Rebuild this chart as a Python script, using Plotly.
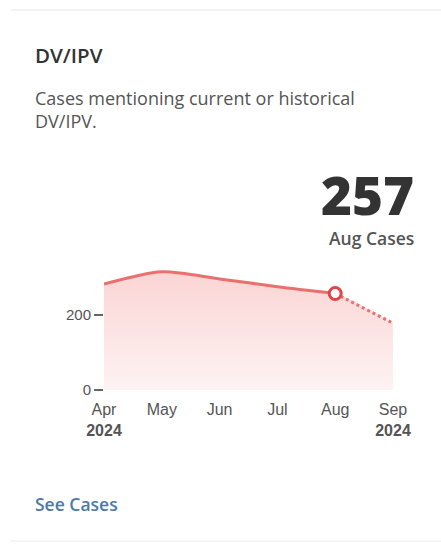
import plotly.graph_objects as go

# Monthly case counts mentioning DV/IPV
months = ["Apr", "May", "Jun", "Jul", "Aug", "Sep"]
tick_labels = ["Apr<br><b>2024</b>", "May", "Jun", "Jul", "Aug", "Sep<br><b>2024</b>"]
cases = [282, 315, 296, 275, 257, 178]
current_index = 4  # Aug is the latest complete month; Sep is partial

title_text = "DV/IPV"
subtitle_text = "Cases mentioning current or historical<br>DV/IPV."
headline_value = cases[current_index]
headline_label = f"{months[current_index]} Cases"
link_text = "See Cases"

W, H = 441, 544
LINE = "#e8716f"
MARK = "#e2434b"
TEXT = "#333333"
MUTED = "#555555"

x = list(range(len(months)))

fig = go.Figure()

# Gradient area under the whole series
fig.add_trace(go.Scatter(
    x=x, y=cases, mode="lines",
    line=dict(width=0, shape="spline", smoothing=0.8),
    fill="tozeroy",
    fillgradient=dict(type="vertical",
                      colorscale=[[0, "#fef3f3"], [1, "#fbd4d4"]]),
    hoverinfo="skip", showlegend=False,
))

# Solid line through completed months
fig.add_trace(go.Scatter(
    x=x[:current_index + 1], y=cases[:current_index + 1], mode="lines",
    line=dict(color=LINE, width=3, shape="spline", smoothing=0.8),
    showlegend=False,
))

# Dotted projection into the partial month
fig.add_trace(go.Scatter(
    x=x[current_index:], y=cases[current_index:], mode="lines",
    line=dict(color=LINE, width=3, dash="dot"),
    showlegend=False,
))

# Highlight of the latest month
fig.add_trace(go.Scatter(
    x=[x[current_index]], y=[cases[current_index]], mode="markers",
    marker=dict(size=12, color="white", line=dict(color=MARK, width=3)),
    showlegend=False,
))

px_l, px_r = 104, 393
px_b, px_t = 390, 262
fig.update_layout(
    width=W, height=H,
    margin=dict(l=0, r=0, t=0, b=0),
    paper_bgcolor="white", plot_bgcolor="rgba(0,0,0,0)",
    xaxis=dict(
        domain=[px_l / W, px_r / W], range=[0, len(months) - 1],
        tickmode="array", tickvals=x, ticktext=tick_labels,
        showgrid=False, zeroline=False, showline=False, ticks="",
        ticklabelstandoff=8,
        tickfont=dict(family="Liberation Sans, Arial", size=16, color=MUTED),
        automargin=False, fixedrange=True,
    ),
    yaxis=dict(
        domain=[1 - px_b / H, 1 - px_t / H], range=[0, 341],
        tickmode="array", tickvals=[0, 200],
        showgrid=False, zeroline=False, showline=False,
        ticks="outside", ticklen=9, tickwidth=1.5, tickcolor="#666666",
        tickfont=dict(family="Liberation Sans, Arial", size=15, color=MUTED),
        automargin=False, fixedrange=True,
    ),
    shapes=[
        dict(type="line", xref="paper", yref="paper",
             x0=11 / W, x1=1, y0=1 - 10 / H, y1=1 - 10 / H,
             line=dict(color="rgba(0,0,0,0.05)", width=2)),
        dict(type="line", xref="paper", yref="paper",
             x0=11 / W, x1=1, y0=1 - 541 / H, y1=1 - 541 / H,
             line=dict(color="rgba(0,0,0,0.04)", width=2)),
    ],
)

def note(text, x_px, y_px, size, color=TEXT, weight=400, anchor="left", yanchor="middle", family="Open Sans"):
    fig.add_annotation(
        text=text, xref="paper", yref="paper",
        x=x_px / W, y=1 - y_px / H, xanchor=anchor, yanchor=yanchor,
        showarrow=False, align=anchor,
        font=dict(family=family, size=size, color=color, weight=weight),
    )

note(title_text, 33, 55, 20.5, TEXT, 600)
note(subtitle_text, 33, 109, 18, MUTED, 400)
note(str(headline_value), 416, 195, 53, TEXT, 800, anchor="right")
note(headline_label, 416, 238, 17.5, MUTED, 600, anchor="right")
note(link_text, 33, 504, 17.5, "#4d79aa", 600)

fig.write_html("out.html")
